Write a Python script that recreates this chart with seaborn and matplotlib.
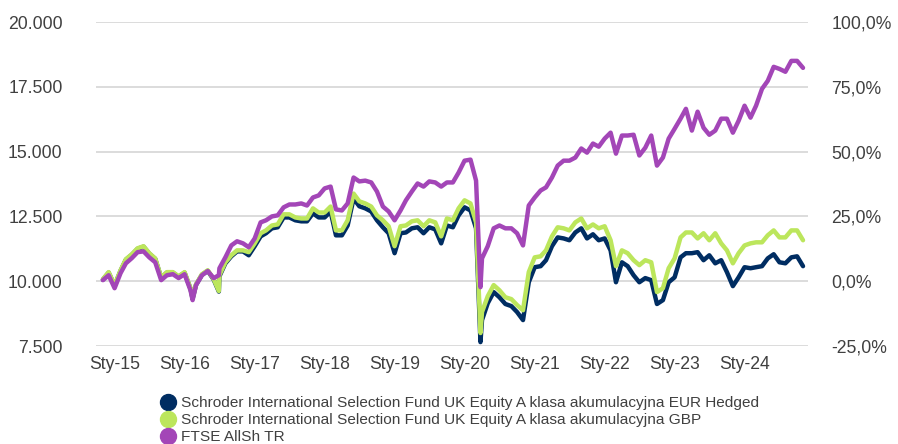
import pandas as pd
import matplotlib
matplotlib.use("Agg")
import matplotlib.pyplot as plt
import matplotlib.dates as mdates
from matplotlib.lines import Line2D
from matplotlib.ticker import FuncFormatter
import seaborn as sns

# month-end values, Oct 2014 .. Oct 2024
months = pd.date_range("2014-10-31", periods=121, freq="ME")

eur_hedged = [
    10060, 10330, 9830, 10400, 10830, 11020, 11250, 11330, 11060, 10860, 10130, 10330,
    10330, 10170, 10330, 9710, 9860, 10250, 10400, 10060, 10190, 10690, 10960, 11150,
    11150, 11000, 11350, 11730, 11850, 12040, 12080, 12460, 12460, 12350, 12310, 12310,
    12620, 12460, 12460, 12690, 11770, 11770, 12150, 13190, 12890, 12810, 12690, 12350,
    12080, 11850, 11080, 11850, 11880, 12040, 12080, 11850, 12080, 12000, 11460, 12150,
    12080, 12540, 12850, 12730, 12040, 8500, 9150, 9580, 9380, 9120, 9040, 8810,
    8500, 9960, 10540, 10580, 10810, 11350, 11690, 11650, 11580, 11880, 12040, 11650,
    11810, 11580, 11650, 11190, 9960, 10730, 10580, 10230, 9960, 10120, 10040, 9120,
    9270, 9960, 10150, 10920, 11080, 11080, 11120, 10810, 11000, 10690, 10810, 10350,
    9810, 10150, 10540, 10500, 10540, 10580, 10880, 11040, 10730, 10690, 10920, 10960,
    10580,
]
gbp = [
    10080, 10350, 9850, 10420, 10850, 11040, 11270, 11350, 11080, 10880, 10150, 10350,
    10350, 10190, 10350, 9730, 9880, 10270, 10420, 10080, 10230, 10730, 11000, 11190,
    11190, 11120, 11460, 11850, 11960, 12150, 12190, 12580, 12580, 12460, 12420, 12420,
    12810, 12650, 12650, 12880, 11960, 11960, 12350, 13380, 13080, 13000, 12880, 12540,
    12350, 12120, 11350, 12120, 12150, 12310, 12350, 12120, 12350, 12270, 11730, 12420,
    12350, 12810, 13120, 13000, 12270, 8810, 9420, 9850, 9650, 9380, 9310, 9080,
    8880, 10350, 10920, 10960, 11190, 11730, 12080, 12040, 11960, 12270, 12420, 12040,
    12190, 12040, 12120, 11580, 10580, 11190, 11080, 10810, 10620, 10810, 10730, 9580,
    9730, 10500, 10880, 11690, 11880, 11880, 11650, 11850, 11580, 11850, 11460, 11190,
    10690, 11080, 11380, 11460, 11500, 11500, 11770, 11960, 11690, 11690, 11960, 11960,
    11580,
]
ftse = [
    10040, 10230, 9730, 10310, 10690, 10890, 11120, 11150, 10920, 10730, 10040, 10230,
    10270, 10120, 10270, 9650, 9850, 10230, 10390, 10120, 10500, 10920, 11380, 11540,
    11460, 11310, 11650, 12270, 12350, 12500, 12540, 12850, 12960, 12960, 13000, 12920,
    13230, 13310, 13580, 13650, 12770, 12730, 13000, 14000, 13850, 13880, 13810, 13460,
    12880, 12690, 12350, 12730, 13120, 13460, 13770, 13650, 13850, 13810, 13650, 13810,
    13810, 14190, 14650, 14690, 13880, 10880, 11350, 12040, 12150, 12040, 12040, 11850,
    11380, 12920, 13230, 13500, 13620, 14000, 14460, 14650, 14650, 14770, 15120, 14960,
    15310, 15190, 15500, 15730, 14920, 15620, 15620, 15650, 14850, 15150, 15620, 14460,
    14770, 15500, 15880, 16270, 16650, 15810, 16540, 15920, 15650, 15810, 16270, 16270,
    15730, 16190, 16770, 16310, 16770, 17420, 17730, 18270, 18190, 18080, 18500, 18500,
    18230,
]

# intra-month lows that show on the chart
dip_dates = pd.to_datetime(["2016-02-11", "2016-06-27", "2020-03-23"])
dip_eur_hedged = [9330, 9600, 7650]
dip_gbp = [9350, 9620, 8000]
dip_ftse = [9270, 10230, 9770]

labels = [
    "Schroder International Selection Fund UK Equity A klasa akumulacyjna EUR Hedged",
    "Schroder International Selection Fund UK Equity A klasa akumulacyjna GBP",
    "FTSE AllSh TR",
]
colors = ["#002d62", "#bce65c", "#a346b7"]

frames = []
for name, monthly, dips in zip(labels, [eur_hedged, gbp, ftse],
                               [dip_eur_hedged, dip_gbp, dip_ftse]):
    frames.append(pd.DataFrame({"Date": list(months) + list(dip_dates),
                                "Value": monthly + dips, "Series": name}))
df = pd.concat(frames, ignore_index=True)

sns.set_style("white")
plt.rcParams["font.family"] = ["Liberation Sans", "DejaVu Sans"]

fig = plt.figure(figsize=(8.98, 4.44), dpi=100)
ax = fig.add_axes([96 / 898, 1 - 346 / 444, (808 - 96) / 898, (346 - 22) / 444])

sns.lineplot(data=df, x="Date", y="Value", hue="Series", hue_order=labels,
             palette=colors, lw=3.2, estimator=None, legend=False, ax=ax)

ax.set_ylim(7500, 20000)
ax.set_yticks(range(7500, 20001, 2500))
ax.yaxis.set_major_formatter(FuncFormatter(lambda v, p: f"{v:,.0f}".replace(",", ".")))
ax.grid(axis="y", color="#d9d9d9", lw=1.3)
ax.set_axisbelow(True)
for s in ax.spines.values():
    s.set_visible(False)
ax.set_xlim(months[0] - pd.Timedelta(days=36), months[-1] + pd.Timedelta(days=26))
ax.set_xticks(pd.date_range("2015-01-01", "2024-01-01", freq="YS"))
ax.xaxis.set_major_formatter(
    FuncFormatter(lambda v, p: "Sty-" + mdates.num2date(v).strftime("%y")))
ax.tick_params(axis="both", length=0, labelsize=12.7, labelcolor="#404040")
ax.tick_params(axis="y", pad=24)
ax.tick_params(axis="x", pad=7)
ax.set_xlabel("")
ax.set_ylabel("")

# right axis: same scale expressed as % change from 10.000
ax2 = ax.twinx()
ax2.set_ylim(-0.25, 1.0)
ax2.set_yticks([-0.25, 0, 0.25, 0.5, 0.75, 1.0])
ax2.yaxis.set_major_formatter(
    FuncFormatter(lambda v, p: f"{v * 100:.1f}%".replace(".", ",")))
for s in ax2.spines.values():
    s.set_visible(False)
ax2.tick_params(axis="y", length=0, pad=17, labelsize=12.7, labelcolor="#404040")

handles = [Line2D([], [], marker="o", ls="None", color=c, markersize=11.5) for c in colors]
fig.legend(handles, labels, loc="upper left", bbox_to_anchor=(160 / 898, 1 - 396 / 444),
           frameon=False, fontsize=11.1, labelspacing=0.2, handletextpad=0.35,
           handlelength=1.0, borderaxespad=0, borderpad=0, labelcolor="#404040")

fig.savefig("out.png", dpi=100)
